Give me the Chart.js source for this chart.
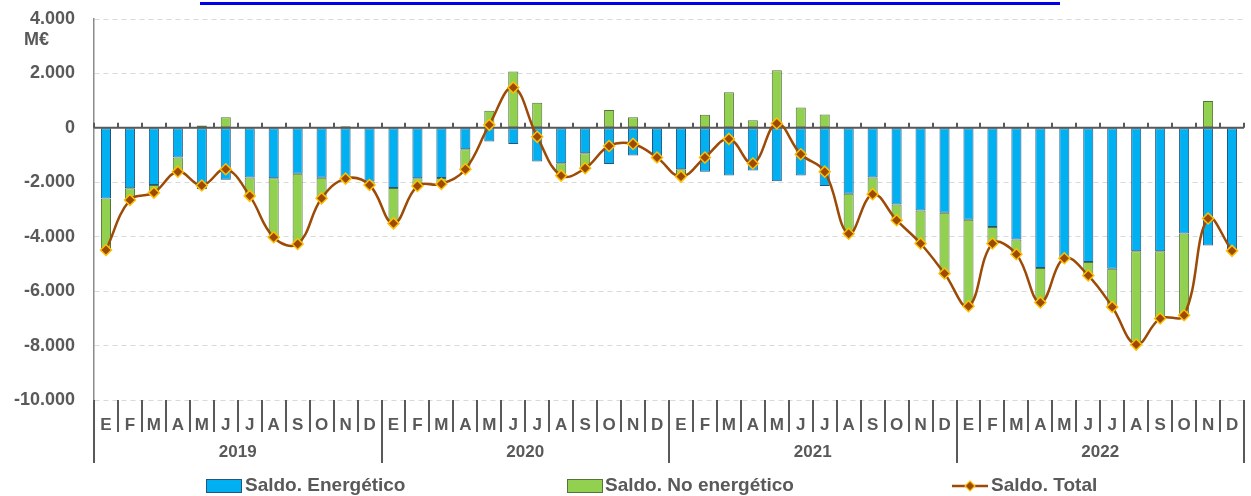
<!DOCTYPE html>
<html>
<head>
<meta charset="utf-8">
<script src="https://cdn.jsdelivr.net/npm/chart.js@4.4.1/dist/chart.umd.min.js"></script>
<style>
    html, body { margin: 0; padding: 0; background: #fff; }
    #wrap { position: relative; width: 1251px; height: 496px; }
    #titulo { position: absolute; left: 200px; top: 2px; width: 860px; height: 3px; background: #0000ee; }
</style>
</head>
<body>
<div id="wrap">
    <canvas id="grafico" width="1251" height="496"></canvas>
    <div id="titulo"></div>
</div>
<script>
// meses y años del eje X
const meses = ['E','F','M','A','M','J','J','A','S','O','N','D',
               'E','F','M','A','M','J','J','A','S','O','N','D',
               'E','F','M','A','M','J','J','A','S','O','N','D',
               'E','F','M','A','M','J','J','A','S','O','N','D'];
const anios = ['2019', '2020', '2021', '2022'];

// saldos en millones de euros
const saldoEnergetico = [
    -2600, -2220, -2100, -1090, -2260, -1910, -1820, -1850, -1690, -1830, -1910, -1975,
    -2210, -1850, -1840, -785, -500, -590, -1240, -1300, -930, -1325, -1020, -1090,
    -1520, -1610, -1755, -1570, -1960, -1755, -2135, -2420, -1820, -2816, -3040, -3120,
    -3380, -3640, -4100, -5150, -4820, -4925, -5180, -4530, -4530, -3880, -4320, -4500
];
const saldoNoEnergetico = [
    -1900, -430, -280, -520, 90, 390, -680, -2170, -2580, -760, 60, -125,
    -1300, -285, -220, -735, 625, 2070, 920, -455, -555, 660, 390, 0,
    -270, 480, 1310, 280, 2120, 750, 490, -1470, -610, -580, -1210, -2230,
    -3170, -610, -540, -1270, 30, -500, -1400, -3430, -2470, -3000, 990, -20
];
const saldoTotal = [
    -4490, -2650, -2380, -1610, -2120, -1520, -2500, -4020, -4270, -2590, -1865, -2100,
    -3510, -2135, -2060, -1520, 110, 1485, -330, -1755, -1485, -665, -590, -1090,
    -1790, -1090, -405, -1310, 160, -970, -1610, -3890, -2437, -3393, -4250, -5353,
    -6555, -4250, -4643, -6419, -4790, -5427, -6580, -7963, -7007, -6886, -3331, -4520
];

const gris = '#595959';
const fuente = '"Liberation Sans", Arial, sans-serif';

function formatoMiles(v) {
    const s = Math.abs(v).toString().replace(/\B(?=(\d{3})+(?!\d))/g, '.');
    return (v < 0 ? '-' : '') + s;
}

const ejes = {
    id: 'ejes',
    beforeDatasetDraw(chart, args) {
        if (args.meta.type !== 'line') return;
        const {ctx, chartArea} = chart;
        const x = chart.scales.x, y = chart.scales.y;
        const y0 = y.getPixelForValue(0);
        ctx.save();
        ctx.strokeStyle = gris;
        ctx.lineWidth = 2;
        ctx.beginPath();
        ctx.moveTo(chartArea.left, y0);
        ctx.lineTo(chartArea.right, y0);
        for (let i = 0; i <= meses.length; i++) {
            const px = Math.round(x.getPixelForValue(i - 0.5));
            ctx.moveTo(px, y0);
            ctx.lineTo(px, y0 - 5);
        }
        ctx.stroke();
        ctx.restore();
    },
    afterDraw(chart) {
        const {ctx, chartArea} = chart;
        const x = chart.scales.x;
        const base = chartArea.bottom;
        ctx.save();
        // separadores de meses y años
        ctx.strokeStyle = gris;
        ctx.lineWidth = 2;
        ctx.beginPath();
        for (let i = 0; i <= meses.length; i++) {
            const px = Math.round(x.getPixelForValue(i - 0.5));
            ctx.moveTo(px, base);
            ctx.lineTo(px, i % 12 === 0 ? base + 63 : base + 32);
        }
        ctx.stroke();

        ctx.fillStyle = gris;
        ctx.font = 'bold 17px ' + fuente;
        ctx.textAlign = 'center';
        ctx.textBaseline = 'middle';
        anios.forEach((a, k) => {
            const px = (x.getPixelForValue(k * 12 - 0.5) + x.getPixelForValue(k * 12 + 11.5)) / 2;
            ctx.fillText(a, px, base + 52);
        });

        // unidad
        ctx.textAlign = 'left';
        ctx.font = 'bold 18px ' + fuente;
        ctx.fillText('M€', 24, 40);

        // leyenda
        const yl = 486;
        const ds = chart.data.datasets;
        ctx.fillStyle = ds[0].backgroundColor;
        ctx.fillRect(206, yl - 7, 36, 14);
        ctx.strokeStyle = ds[0].borderColor;
        ctx.lineWidth = 1;
        ctx.strokeRect(206.5, yl - 6.5, 35, 13);
        ctx.fillStyle = ds[1].backgroundColor;
        ctx.fillRect(567, yl - 7, 36, 14);
        ctx.strokeStyle = ds[1].borderColor;
        ctx.strokeRect(567.5, yl - 6.5, 35, 13);

        ctx.strokeStyle = ds[2].borderColor;
        ctx.lineWidth = 2.5;
        ctx.beginPath();
        ctx.moveTo(952, yl);
        ctx.lineTo(988, yl);
        ctx.stroke();
        ctx.beginPath();
        ctx.moveTo(970, yl - 5);
        ctx.lineTo(975, yl);
        ctx.lineTo(970, yl + 5);
        ctx.lineTo(965, yl);
        ctx.closePath();
        ctx.fillStyle = ds[2].pointBackgroundColor;
        ctx.fill();
        ctx.strokeStyle = ds[2].pointBorderColor;
        ctx.lineWidth = 1.2;
        ctx.stroke();

        ctx.fillStyle = gris;
        ctx.textAlign = 'left';
        ctx.font = 'bold 19px ' + fuente;
        ctx.fillText(ds[0].label, 245, yl);
        ctx.fillText(ds[1].label, 605, yl);
        ctx.fillText(ds[2].label, 991, yl);
        ctx.restore();
    }
};

new Chart(document.getElementById('grafico'), {
    type: 'bar',
    data: {
        labels: meses,
        datasets: [
            {
                label: 'Saldo. Energético',
                data: saldoEnergetico,
                backgroundColor: '#00b0f0',
                borderColor: '#25547f',
                borderWidth: 1,
                borderSkipped: false,
                stack: 'saldo',
                order: 1,
                barPercentage: 0.42,
                categoryPercentage: 1
            },
            {
                label: 'Saldo. No energético',
                data: saldoNoEnergetico,
                backgroundColor: '#92d050',
                borderColor: '#55733a',
                borderWidth: 1,
                borderSkipped: false,
                stack: 'saldo',
                order: 1,
                barPercentage: 0.42,
                categoryPercentage: 1
            },
            {
                type: 'line',
                label: 'Saldo. Total',
                data: saldoTotal,
                borderColor: '#9c4a06',
                borderWidth: 2.5,
                tension: 0.4,
                pointStyle: 'rectRot',
                pointRadius: 5.5,
                pointBackgroundColor: '#9c4a06',
                pointBorderColor: '#ffc000',
                pointBorderWidth: 1.5,
                stack: 'total',
                order: 0
            }
        ]
    },
    options: {
        responsive: false,
        animation: false,
        events: [],
        layout: { padding: { top: 19, right: 3, left: 0, bottom: 0 } },
        plugins: { legend: { display: false }, tooltip: { enabled: false } },
        scales: {
            x: {
                stacked: true,
                afterFit: s => { s.height = 96; s.paddingLeft = 0; s.paddingRight = 0; },
                grid: { display: false },
                border: { display: false },
                ticks: {
                    autoSkip: false,
                    maxRotation: 0,
                    padding: 7,
                    color: gris,
                    font: { family: fuente, size: 17, weight: 'bold' }
                }
            },
            y: {
                stacked: true,
                min: -10000,
                max: 4000,
                afterFit: s => { s.width = 94; s.paddingTop = 0; s.paddingBottom = 0; },
                grid: {
                    color: ctx => ctx.tick && ctx.tick.value === 0 ? 'rgba(0,0,0,0)' : '#d9d9d9',
                    lineWidth: 1,
                    tickLength: 0
                },
                border: { color: '#8c8c8c', width: 1.5, dash: [5, 4] },
                ticks: {
                    stepSize: 2000,
                    padding: 19,
                    color: gris,
                    font: { family: fuente, size: 18, weight: 'bold' },
                    callback: v => formatoMiles(v)
                }
            }
        }
    },
    plugins: [ejes]
});
</script>
</body>
</html>
